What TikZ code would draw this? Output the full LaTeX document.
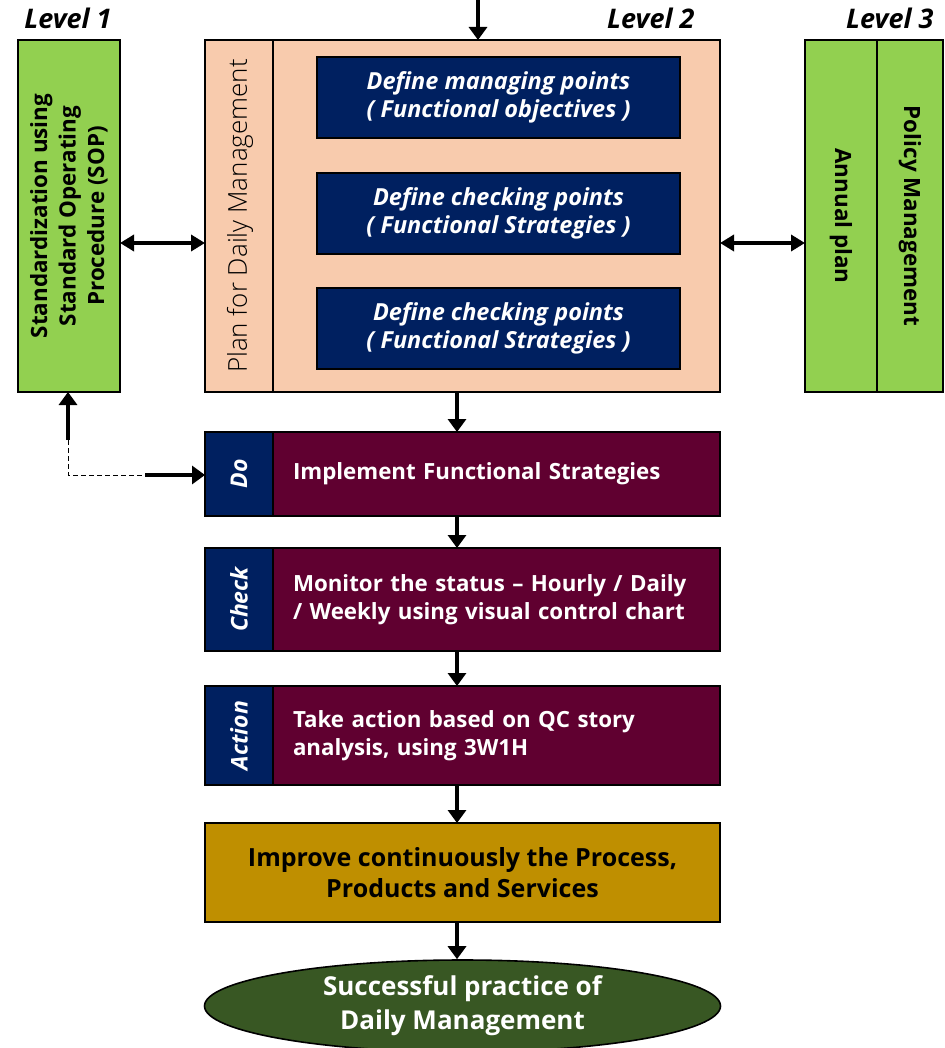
\documentclass[tikz,border=0pt]{standalone}
\usepackage{fontspec}
\setmainfont{Open Sans}
\newfontfamily\lightfont{Open Sans Light}
\usetikzlibrary{arrows.meta,shapes.geometric,calc}
\definecolor{lgreen}{HTML}{92D050}
\definecolor{peach}{HTML}{F8CBAD}
\definecolor{navy}{HTML}{002060}
\definecolor{maroon}{HTML}{600030}
\definecolor{gold}{HTML}{BF8F00}
\definecolor{dgreen}{HTML}{385723}
\tikzset{
  box/.style={draw=black, line width=1.6pt, inner sep=0pt, outer sep=0pt},
  gbox/.style={box, fill=lgreen},
  pbox/.style={box, fill=peach},
  nbox/.style={box, fill=navy, text=white, font=\fontsize{23.5}{28}\selectfont\bfseries\itshape, align=center},
  mbox/.style={box, fill=maroon, text=white, font=\fontsize{22.3}{27.5}\selectfont\bfseries, align=left},
  lvl/.style={font=\fontsize{27}{30}\selectfont\bfseries\itshape},
  arr/.style={line width=4.5pt, -{Triangle[width=18pt,length=13pt]}},
  darr/.style={line width=3.5pt, {Triangle[width=16pt,length=14pt]}-{Triangle[width=16pt,length=14pt]}},
  vtext/.style={font=\fontsize{22.4}{28.5}\selectfont\bfseries, align=center},
  stagelbl/.style={rotate=90, text=white, font=\fontsize{23}{26}\selectfont\bfseries\itshape},
}
\begin{document}
\begin{tikzpicture}[x=1pt,y=-1pt]
\useasboundingbox (0,0) rectangle (944,1048);
% level labels
\node[lvl] (l1) at (68,18) {Level 1};
\node[lvl, anchor=east] (l2) at (698,18) {Level 2};
\node[lvl, anchor=east] (l3) at (937,18) {Level 3};
% left box
\node[gbox, minimum width=102pt, minimum height=352pt] (sop) at (69,216) {};
\node[vtext, rotate=90] (soptxt) at (sop.center) {Standardization using\\Standard Operating\\Procedure (SOP)};
% plan box
\node[pbox, minimum width=515pt, minimum height=352pt] (plan) at (462.5,216) {};
\draw[line width=1.6pt] ([xshift=68pt]plan.north west) coordinate (pdiv) -- ([xshift=68pt]plan.south west);
\node[rotate=90, font=\fontsize{26}{30}\lightfont] (plantxt) at (240,216) {Plan for Daily Management};
\node[nbox, minimum width=363pt, minimum height=81pt] (n1) at (498.5,97.5) {Define managing points\\( Functional objectives )};
\node[nbox, minimum width=363pt, minimum height=81pt] (n2) at (498.5,213.5) {Define checking points\\( Functional Strategies )};
\node[nbox, minimum width=363pt, minimum height=81pt] (n3) at (498.5,328.5) {Define checking points\\( Functional Strategies )};
% right box
\node[gbox, minimum width=72pt, minimum height=352pt] (annual) at (841,216) {};
\node[gbox, minimum width=66pt, minimum height=352pt] (policy) at (910,216) {};
\node[vtext, rotate=-90] (anntxt) at (annual.center) {Annual plan};
\node[vtext, rotate=-90] (poltxt) at (policy.center) {Policy Management};
% Do
\node[box, fill=navy, minimum width=68pt, minimum height=84pt] (dol) at (239,474) {};
\node[stagelbl] (doltxt) at (dol.center) {Do};
\node[mbox, minimum width=447pt, minimum height=84pt, text width=415pt, inner xsep=16pt] (dot) at (496.5,474) {\hspace*{4pt}Implement Functional Strategies};
% Check
\node[box, fill=navy, minimum width=68pt, minimum height=103pt] (chl) at (239,599.5) {};
\node[stagelbl] (chltxt) at (chl.center) {Check};
\node[mbox, minimum width=447pt, minimum height=103pt, text width=415pt, inner xsep=16pt] (cht) at (496.5,599.5) {\hspace*{4pt}Monitor the status -- Hourly / Daily\\\hspace*{4pt}/ Weekly using visual control chart};
% Action
\node[box, fill=navy, minimum width=68pt, minimum height=99pt] (acl) at (239,735.5) {};
\node[stagelbl] (acltxt) at (acl.center) {Action};
\node[mbox, minimum width=447pt, minimum height=99pt, text width=415pt, inner xsep=16pt] (act) at (496.5,735.5) {\hspace*{4pt}Take action based on QC story\\\hspace*{4pt}analysis, using 3W1H};
% Improve
\node[box, fill=gold, minimum width=515pt, minimum height=99pt, align=center, font=\fontsize{25}{31}\selectfont\bfseries] (imp) at (462.5,872.5) {Improve continuously the Process,\\Products and Services};
% Ellipse
\node[ellipse, draw=black, line width=1.6pt, fill=dgreen, minimum width=516pt, minimum height=92pt, inner sep=0pt, text=white, align=center, font=\fontsize{26}{34}\selectfont\bfseries] (succ) at (462.5,1006) {Successful practice of\\Daily Management};
% arrows
\coordinate (topin) at (478,0);
\draw[arr] (topin) -- (topin |- plan.north);
\coordinate (ax) at (457,0);
\draw[arr] (ax |- plan.south) -- (ax |- dol.north);
\draw[arr] (ax |- dol.south) -- (ax |- chl.north);
\draw[arr] (ax |- chl.south) -- (ax |- acl.north);
\draw[arr] (ax |- acl.south) -- (ax |- imp.north);
\draw[arr] (ax |- imp.south) -- (ax |- succ.north);
\coordinate (cy) at (0,243);
\draw[darr] (sop.east |- cy) -- (plan.west |- cy);
\draw[darr] (plan.east |- cy) -- (annual.west |- cy);
% feedback
\coordinate (fb1) at (68,440);
\coordinate (fb2) at (68,475);
\coordinate (fb3) at (145,475);
\draw[arr] (fb1) -- (fb1 |- sop.south);
\draw[dashed, line width=1pt, dash pattern=on 5pt off 3pt] (fb1) -- (fb2) -- (fb3);
\draw[arr] (fb3) -- (dol.west |- fb3);
\end{tikzpicture}
\end{document}
